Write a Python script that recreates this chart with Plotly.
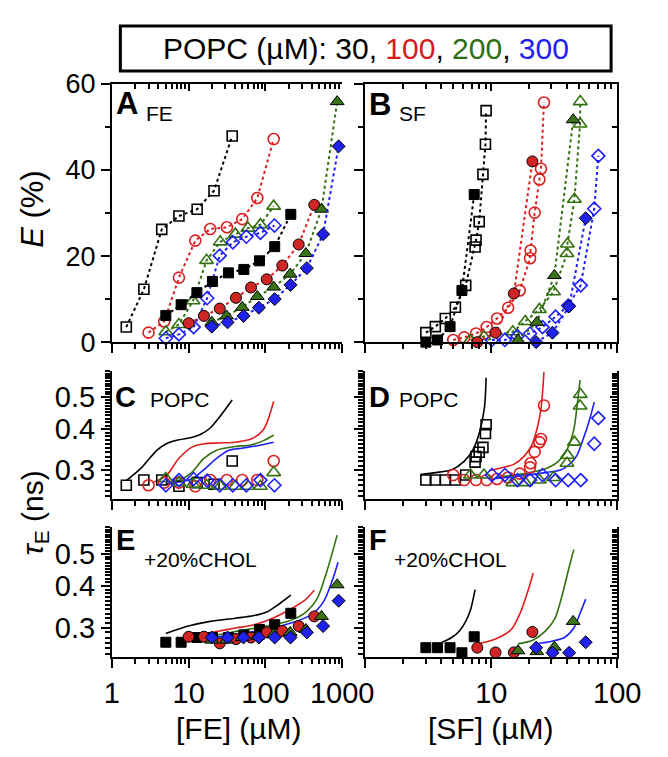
import math
import plotly.graph_objects as go

W, H = 668, 757
FONT = "Liberation Sans, Arial, sans-serif"
K = 'black'; R = '#dc1f1f'; G = '#33700f'; B = '#1e1eff'
RF = '#d02525'; GF = '#3b7418'; BF = '#2121ee'

# ---------------- Panel A: FE, E (%) ----------------
A_x_k_open = [1.54, 2.61, 4.46, 7.47, 12.9, 21.4, 36.9]
A_E_k_open = [3.5, 12.3, 26.2, 29.3, 30.9, 35.2, 47.9]
A_x_k_fill = [5.04, 7.98, 12.8, 20.4, 33.0, 52.3, 83.6, 132, 214]
A_E_k_fill = [6.2, 8.7, 11.5, 14.1, 16.1, 16.9, 18.9, 22.2, 29.7]
A_x_r_open = [3.0, 4.8, 7.47, 12.2, 19.1, 31.5, 49.9, 78.3, 128]
A_E_r_open = [2.2, 4.8, 15.0, 23.6, 26.3, 26.7, 28.6, 33.5, 47.2]
A_x_r_fill = [10.0, 15.8, 25.4, 41.3, 64.9, 104, 166, 271, 433]
A_E_r_fill = [4.4, 6.1, 7.8, 10.3, 12.7, 14.6, 17.8, 22.7, 31.9]
A_x_g_open = [5.04, 7.47, 11.4, 17.1, 25.8, 40.6, 59.1, 86.0, 128]
A_E_g_open = [2.4, 4.1, 9.6, 19.0, 23.3, 25.1, 26.5, 27.3, 31.6]
A_x_g_fill = [20.0, 31.2, 49.9, 78.3, 128, 210, 336, 538, 860]
A_E_g_fill = [4.6, 6.1, 8.1, 10.6, 12.8, 15.8, 20.6, 30.9, 55.9]
A_x_b_open = [5.04, 7.47, 11.6, 17.4, 25.4, 37.6, 56.4, 86.0, 131]
A_E_b_open = [0.9, 1.8, 3.5, 10.2, 20.1, 23.2, 24.5, 25.4, 27.1]
A_x_b_fill = [20.0, 32.1, 51.8, 82.1, 132, 212, 346, 564, 898]
A_E_b_fill = [3.6, 4.6, 6.1, 8.0, 10.0, 13.3, 17.2, 25.1, 45.5]

# ---------------- Panel B: SF, E (%) ----------------
B_x_k_open = [3.02, 3.59, 4.31, 5.18, 6.26, 7.43, 7.56, 8.01, 8.58, 8.98, 9.09]
B_E_k_open = [2.2, 3.6, 5.5, 8.1, 13.2, 22.1, 23.7, 28.0, 39.0, 46.0, 53.8]
B_x_k_fill = [3.02, 3.74, 4.70, 5.84, 7.31]
B_E_k_fill = [0.0, 0.5, 3.6, 12.0, 34.3]
B_x_r_open = [4.98, 6.09, 7.56, 9.19, 11.1, 13.6, 16.8, 20.3, 20.5, 22.1, 24.1, 24.8, 26.2]
B_E_r_open = [0.5, 1.1, 2.0, 3.5, 5.5, 8.0, 12.0, 19.5, 21.3, 30.1, 37.8, 40.3, 55.7]
B_x_r_fill = [7.74, 10.8, 15.1, 21.2]
B_E_r_fill = [0.0, 2.2, 11.3, 42.0]
B_x_g_open = [6.82, 8.73, 14.8, 18.6, 24.1, 31.2, 39.9, 40.2, 45.7, 50.7, 50.9]
B_E_g_open = [0.5, 1.3, 2.4, 4.8, 7.6, 11.7, 20.6, 22.8, 33.2, 50.7, 55.9]
B_x_g_fill = [16.3, 23.0, 31.7, 44.7]
B_E_g_fill = [0.5, 4.6, 15.5, 51.7]
B_x_b_open = [10.1, 12.8, 16.1, 20.3, 25.5, 32.4, 40.8, 51.3, 65.7, 70.8]
B_E_b_open = [0.5, 0.5, 1.4, 2.0, 3.5, 5.9, 8.5, 13.2, 31.0, 43.3]
B_x_b_fill = [22.7, 30.6, 41.5, 56.2]
B_E_b_fill = [0.0, 2.2, 8.3, 28.8]

# ---------------- Panel C: FE, POPC, tau (ns) ----------------
C_tau_k = [0.27, 0.28, 0.28, 0.268, 0.275, 0.272, 0.32]
C_tau_r = [0.27, 0.275, 0.275, 0.268, 0.28, 0.28, 0.28, 0.28, 0.32]
C_tau_g = [0.283, 0.275, 0.272, 0.27, 0.268, 0.268, 0.268, 0.268, 0.295]
C_tau_b = [0.27, 0.28, 0.282, 0.279, 0.27, 0.27, 0.27, 0.28, 0.27]
C_fit_k_x = [1.54, 2.42, 3.87, 5.13, 7.47, 10.9, 14.4, 19.1, 25.4, 36.9]
C_fit_k_y = [0.279, 0.305, 0.345, 0.361, 0.371, 0.377, 0.386, 0.403, 0.436, 0.490]
C_fit_r_x = [3.52, 5.13, 7.47, 10.9, 15.8, 25.4, 40.6, 64.9, 94.5, 128]
C_fit_r_y = [0.276, 0.289, 0.326, 0.352, 0.361, 0.363, 0.365, 0.373, 0.399, 0.486]
C_fit_g_x = [5.04, 7.47, 10.9, 15.8, 23.1, 40.6, 64.9, 94.5, 128]
C_fit_g_y = [0.272, 0.279, 0.295, 0.326, 0.345, 0.354, 0.358, 0.369, 0.383]
C_fit_b_x = [5.04, 10.9, 15.8, 23.1, 33.6, 49.0, 78.3, 128]
C_fit_b_y = [0.272, 0.282, 0.301, 0.326, 0.345, 0.350, 0.356, 0.365]

# ---------------- Panel D: SF, POPC, tau (ns) ----------------
D_tau_k = [0.28, 0.28, 0.28, 0.28, 0.29, 0.3175, 0.33, 0.34, 0.352, 0.388, 0.4125]
D_tau_r = [0.290, 0.280, 0.280, 0.280, 0.282, 0.285, 0.293, 0.306, 0.315, 0.341, 0.365, 0.373, 0.472]
D_tau_g = [0.29, 0.29, 0.275, 0.275, 0.28, 0.285, 0.315, 0.333, 0.365, 0.47, 0.51]
D_tau_b = [0.29, 0.29, 0.28, 0.28, 0.29, 0.28, 0.28, 0.28, 0.361, 0.432]
D_fit_k_x = [2.73, 3.63, 4.84, 6.08, 7.23, 8.10, 8.83, 9.09]
D_fit_k_y = [0.291, 0.295, 0.301, 0.319, 0.349, 0.394, 0.467, 0.573]
D_fit_r_x = [9.62, 12.1, 15.2, 18.1, 20.9, 23.0, 24.8, 26.2]
D_fit_r_y = [0.299, 0.305, 0.313, 0.330, 0.357, 0.399, 0.461, 0.597]
D_fit_g_x = [10.8, 15.2, 20.3, 27.0, 34.0, 40.3, 45.2, 47.9, 50.7]
D_fit_g_y = [0.285, 0.290, 0.295, 0.303, 0.319, 0.349, 0.399, 0.467, 0.564]
D_fit_b_x = [10.1, 27.0, 35.9, 42.7, 47.9, 53.7, 60.3, 65.7]
D_fit_b_y = [0.282, 0.295, 0.301, 0.315, 0.333, 0.373, 0.427, 0.483]

# ---------------- Panel E: FE, +20% CHOL, tau (ns) ----------------
E_tau_k = [0.271, 0.271, 0.280, 0.280, 0.280, 0.285, 0.296, 0.306, 0.331]
E_tau_r = [0.2815, 0.2815, 0.269, 0.277, 0.280, 0.290, 0.293, 0.303, 0.324]
E_tau_g = [0.275, 0.275, 0.280, 0.282, 0.286, 0.290, 0.296, 0.324, 0.403]
E_tau_b = [0.280, 0.280, 0.280, 0.280, 0.280, 0.280, 0.290, 0.303, 0.361]
E_fit_k_x = [5.04, 9.9, 19.1, 40.6, 71.3, 104, 151, 214]
E_fit_k_y = [0.288, 0.303, 0.313, 0.320, 0.326, 0.334, 0.353, 0.375]
E_fit_r_x = [10.0, 23.1, 40.6, 71.3, 125, 220, 321, 433]
E_fit_r_y = [0.283, 0.292, 0.299, 0.306, 0.320, 0.342, 0.361, 0.388]
E_fit_g_x = [20.0, 40.6, 104, 200, 321, 467, 619, 859]
E_fit_g_y = [0.283, 0.292, 0.303, 0.314, 0.331, 0.365, 0.436, 0.568]
E_fit_b_x = [20.0, 40.6, 104, 220, 387, 564, 747, 883]
E_fit_b_y = [0.280, 0.286, 0.296, 0.310, 0.327, 0.357, 0.417, 0.471]

# ---------------- Panel F: SF, +20% CHOL, tau (ns) ----------------
F_tau_k = [0.261, 0.261, 0.261, 0.252, 0.2815]
F_tau_r = [0.261, 0.2526, 0.2526, 0.291]
F_tau_g = [0.2555, 0.254, 0.262, 0.313]
F_tau_b = [0.261, 0.252, 0.252, 0.271]
F_fit_k_x = [4.07, 4.84, 5.58, 6.26, 6.82, 7.43]
F_fit_k_y = [0.271, 0.280, 0.293, 0.313, 0.338, 0.390]
F_fit_r_x = [7.74, 10.8, 14.4, 17.1, 19.7, 21.5]
F_fit_r_y = [0.268, 0.277, 0.296, 0.334, 0.390, 0.4375]
F_fit_g_x = [16.3, 21.5, 27.0, 32.1, 37.0, 41.5, 45.2]
F_fit_g_y = [0.268, 0.2754, 0.293, 0.320, 0.382, 0.455, 0.514]
F_fit_b_x = [22.7, 30.3, 38.1, 45.2, 50.7, 56.2]
F_fit_b_y = [0.268, 0.273, 0.280, 0.299, 0.331, 0.365]

# tick definitions
E_ticks = [0, 20, 40, 60]
E_minor = [10, 30, 50]
TAU_ticks = [0.3, 0.4, 0.5]
TAU_ticktext = ['0.3', '0.4', '0.5']
TAU_minor = [round(0.25 + 0.01 * i, 2) for i in range(36) if round(0.25 + 0.01 * i, 2) not in (0.3, 0.4, 0.5)]
FE_ticks = [1, 10, 100, 1000]
FE_ticktext = ['1', '10', '100', '1000']
SF_ticks = [1, 10, 100]
SF_ticktext = ['', '10', '100']
LOG_minor3 = [m * 10 ** d for d in range(3) for m in range(2, 10)]
LOG_minor2 = [m * 10 ** d for d in range(2) for m in range(2, 10)]


def px(v):
    return v / W


def py(v):
    return 1 - v / H


fig = go.Figure()

SYM = {'k': 'square', 'r': 'circle', 'g': 'triangle-up', 'b': 'diamond'}
SIZE = {'k': 10, 'r': 11, 'g': 12, 'b': 10}
COL = {'k': K, 'r': R, 'g': G, 'b': B}
FCOL = {'k': K, 'r': RF, 'g': GF, 'b': BF}


def pts(x, y, xa, ya, c, filled, dotted):
    if filled:
        marker = dict(symbol=SYM[c], size=SIZE[c], color=FCOL[c],
                      line=dict(color='black', width=1))
    else:
        marker = dict(symbol=SYM[c] + '-open', size=SIZE[c], color=COL[c],
                      line=dict(color=COL[c], width=1.6))
    fig.add_trace(go.Scatter(
        x=x, y=y, xaxis=xa, yaxis=ya,
        mode='lines+markers' if dotted else 'markers',
        line=dict(color=COL[c], width=2, dash='dot'),
        marker=marker, cliponaxis=False, showlegend=False, hoverinfo='skip'))


def fit(x, y, xa, ya, c):
    fig.add_trace(go.Scatter(
        x=x, y=y, xaxis=xa, yaxis=ya, mode='lines',
        line=dict(color=COL[c], width=1.6, shape='spline', smoothing=0.8),
        showlegend=False, hoverinfo='skip'))


# Panel A
pts(A_x_k_open, A_E_k_open, 'x', 'y', 'k', False, True)
pts(A_x_r_open, A_E_r_open, 'x', 'y', 'r', False, True)
pts(A_x_g_open, A_E_g_open, 'x', 'y', 'g', False, True)
pts(A_x_b_open, A_E_b_open, 'x', 'y', 'b', False, True)
pts(A_x_k_fill, A_E_k_fill, 'x', 'y', 'k', True, True)
pts(A_x_r_fill, A_E_r_fill, 'x', 'y', 'r', True, True)
pts(A_x_g_fill, A_E_g_fill, 'x', 'y', 'g', True, True)
pts(A_x_b_fill, A_E_b_fill, 'x', 'y', 'b', True, True)
# Panel B
pts(B_x_k_open, B_E_k_open, 'x2', 'y2', 'k', False, True)
pts(B_x_r_open, B_E_r_open, 'x2', 'y2', 'r', False, True)
pts(B_x_g_open, B_E_g_open, 'x2', 'y2', 'g', False, True)
pts(B_x_b_open, B_E_b_open, 'x2', 'y2', 'b', False, True)
pts(B_x_k_fill, B_E_k_fill, 'x2', 'y2', 'k', True, True)
pts(B_x_r_fill, B_E_r_fill, 'x2', 'y2', 'r', True, True)
pts(B_x_g_fill, B_E_g_fill, 'x2', 'y2', 'g', True, True)
pts(B_x_b_fill, B_E_b_fill, 'x2', 'y2', 'b', True, True)
# Panel C
fit(C_fit_k_x, C_fit_k_y, 'x3', 'y3', 'k')
fit(C_fit_r_x, C_fit_r_y, 'x3', 'y3', 'r')
fit(C_fit_g_x, C_fit_g_y, 'x3', 'y3', 'g')
fit(C_fit_b_x, C_fit_b_y, 'x3', 'y3', 'b')
pts(A_x_k_open, C_tau_k, 'x3', 'y3', 'k', False, False)
pts(A_x_r_open, C_tau_r, 'x3', 'y3', 'r', False, False)
pts(A_x_g_open, C_tau_g, 'x3', 'y3', 'g', False, False)
pts(A_x_b_open, C_tau_b, 'x3', 'y3', 'b', False, False)
# Panel D
fit(D_fit_k_x, D_fit_k_y, 'x4', 'y4', 'k')
fit(D_fit_r_x, D_fit_r_y, 'x4', 'y4', 'r')
fit(D_fit_g_x, D_fit_g_y, 'x4', 'y4', 'g')
fit(D_fit_b_x, D_fit_b_y, 'x4', 'y4', 'b')
pts(B_x_k_open, D_tau_k, 'x4', 'y4', 'k', False, False)
pts(B_x_r_open, D_tau_r, 'x4', 'y4', 'r', False, False)
pts(B_x_g_open, D_tau_g, 'x4', 'y4', 'g', False, False)
pts(B_x_b_open, D_tau_b, 'x4', 'y4', 'b', False, False)
# Panel E
fit(E_fit_k_x, E_fit_k_y, 'x5', 'y5', 'k')
fit(E_fit_r_x, E_fit_r_y, 'x5', 'y5', 'r')
fit(E_fit_g_x, E_fit_g_y, 'x5', 'y5', 'g')
fit(E_fit_b_x, E_fit_b_y, 'x5', 'y5', 'b')
pts(A_x_k_fill, E_tau_k, 'x5', 'y5', 'k', True, False)
pts(A_x_r_fill, E_tau_r, 'x5', 'y5', 'r', True, False)
pts(A_x_g_fill, E_tau_g, 'x5', 'y5', 'g', True, False)
pts(A_x_b_fill, E_tau_b, 'x5', 'y5', 'b', True, False)
# Panel F
fit(F_fit_k_x, F_fit_k_y, 'x6', 'y6', 'k')
fit(F_fit_r_x, F_fit_r_y, 'x6', 'y6', 'r')
fit(F_fit_g_x, F_fit_g_y, 'x6', 'y6', 'g')
fit(F_fit_b_x, F_fit_b_y, 'x6', 'y6', 'b')
pts(B_x_k_fill, F_tau_k, 'x6', 'y6', 'k', True, False)
pts(B_x_r_fill, F_tau_r, 'x6', 'y6', 'r', True, False)
pts(B_x_g_fill, F_tau_g, 'x6', 'y6', 'g', True, False)
pts(B_x_b_fill, F_tau_b, 'x6', 'y6', 'b', True, False)

# invisible carriers for the mirrored (inside-tick) axes
for xa, ya, xv, yv in [('x7', 'y', 10, 10), ('x8', 'y2', 10, 10), ('x2', 'y7', 10, 10),
                       ('x4', 'y8', 10, 0.3), ('x6', 'y9', 10, 0.3)]:
    fig.add_trace(go.Scatter(x=[xv], y=[yv], xaxis=xa, yaxis=ya, mode='markers',
                             marker=dict(opacity=0), showlegend=False, hoverinfo='skip'))

XL = [px(102), px(347)]
XR = [px(371.7), px(639.5)]
Y1 = [py(332.3), py(63.5)]
Y2 = [py(495.8), py(362.5)]
Y3 = [py(660), py(525)]
TAU_RANGE = [math.log10(0.245), math.log10(0.6)]

base = dict(showgrid=False, zeroline=False, showline=True, linecolor='black', linewidth=2,
            ticks='outside', ticklen=9, tickwidth=2, tickcolor='black')


def minor(vals, inside=False):
    return dict(tickmode='array', tickvals=vals, ticks='inside' if inside else 'outside',
                ticklen=5, tickwidth=1.5, tickcolor='black', showgrid=False)


def xlog(domain, anchor, rng, tv, tt, mins, labels, **kw):
    d = dict(base)
    d.update(type='log', domain=domain, anchor=anchor, range=rng, tickmode='array',
             tickvals=tv, ticktext=tt, minor=minor(mins),
             showticklabels=labels, tickfont=dict(family=FONT, size=29, color='black'))
    d.update(kw)
    return d


def ylin(domain, anchor, labels, **kw):
    d = dict(base)
    d.update(domain=domain, anchor=anchor, range=[0, 60], tickmode='array', tickvals=E_ticks,
             minor=minor(E_minor), showticklabels=labels,
             tickfont=dict(family=FONT, size=27, color='black'))
    d.update(kw)
    return d


def ytau(domain, anchor, labels, **kw):
    d = dict(base)
    d.update(type='log', domain=domain, anchor=anchor, range=TAU_RANGE, tickmode='array',
             tickvals=TAU_ticks, ticktext=TAU_ticktext, minor=minor(TAU_minor),
             showticklabels=labels, tickfont=dict(family=FONT, size=29, color='black'))
    d.update(kw)
    return d


fig.update_layout(
    width=W, height=H, margin=dict(l=0, r=0, t=0, b=0),
    paper_bgcolor='white', plot_bgcolor='white', showlegend=False,
    font=dict(family=FONT, color='black'),
    xaxis=xlog(XL, 'y', [0, 3], FE_ticks, FE_ticktext, LOG_minor3, False),
    xaxis2=xlog(XR, 'y2', [0, 2], SF_ticks, SF_ticktext, LOG_minor2, False),
    xaxis3=xlog(XL, 'y3', [0, 3], FE_ticks, FE_ticktext, LOG_minor3, False),
    xaxis4=xlog(XR, 'y4', [0, 2], SF_ticks, SF_ticktext, LOG_minor2, False),
    xaxis5=xlog(XL, 'y5', [0, 3], FE_ticks, FE_ticktext, LOG_minor3, True),
    xaxis6=xlog(XR, 'y6', [0, 2], SF_ticks, SF_ticktext, LOG_minor2, True),
    xaxis7=xlog(XL, 'y', [0, 3], FE_ticks, FE_ticktext, LOG_minor3, False, overlaying='x',
                side='top', ticks='inside', ticklen=7, minor=minor(LOG_minor3, True)),
    xaxis8=xlog(XR, 'y2', [0, 2], SF_ticks, SF_ticktext, LOG_minor2, False, overlaying='x2',
                side='top', ticks='inside', ticklen=7, minor=minor(LOG_minor2, True)),
    yaxis=ylin(Y1, 'x', True),
    yaxis2=ylin(Y1, 'x2', False),
    yaxis7=ylin(Y1, 'x2', False, overlaying='y2', side='right', ticks='inside', ticklen=7,
                minor=minor(E_minor, True)),
    yaxis3=ytau(Y2, 'x3', True),
    yaxis4=ytau(Y2, 'x4', False),
    yaxis8=ytau(Y2, 'x4', False, overlaying='y4', side='right', ticks='inside', ticklen=7,
                minor=minor(TAU_minor, True)),
    yaxis5=ytau(Y3, 'x5', True),
    yaxis6=ytau(Y3, 'x6', False),
    yaxis9=ytau(Y3, 'x6', False, overlaying='y6', side='right', ticks='inside', ticklen=7,
                minor=minor(TAU_minor, True)),
)


def note(text, xpx, ypx, size, bold=False, angle=0):
    if bold:
        text = '<b>' + text + '</b>'
    fig.add_annotation(text=text, x=px(xpx), y=py(ypx), xref='paper', yref='paper',
                       showarrow=False, xanchor='center', yanchor='middle', textangle=angle,
                       font=dict(family=FONT, size=size, color='black'))


note('A', 118, 83.5, 31, True)
note('FE', 152.5, 94, 21)
note('B', 387, 85, 31, True)
note('SF', 421.5, 94, 21)
note('C', 117, 389, 29, True)
note('POPC', 174, 392.5, 21)
note('D', 387, 389, 29, True)
note('POPC', 439, 392.5, 21)
note('E', 116, 538, 29, True)
note('+20%CHOL', 196, 558.5, 21)
note('F', 385, 538, 29, True)
note('+20%CHOL', 462.5, 558.5, 21)

note('<i>E</i> (%)', 18, 193.6, 31, angle=-90)
note('<i>τ</i><sub>E</sub> (ns)', 20, 510, 30, angle=-90)
note('[FE] (µM)', 237, 735, 30)
note('[SF] (µM)', 505, 735, 30)

# header box
fig.add_shape(type='rect', xref='paper', yref='paper', x0=px(111), x1=px(633),
              y0=py(50), y1=py(3), line=dict(color='black', width=3), fillcolor='white')
note('POPC (µM): 30, <span style="color:%s">100</span>, <span style="color:%s">200</span>, '
     '<span style="color:%s">300</span>' % ('#d41c1c', '#2f6e12', '#2020f0'), 372, 26.5, 30)

fig.write_html("out.html")
